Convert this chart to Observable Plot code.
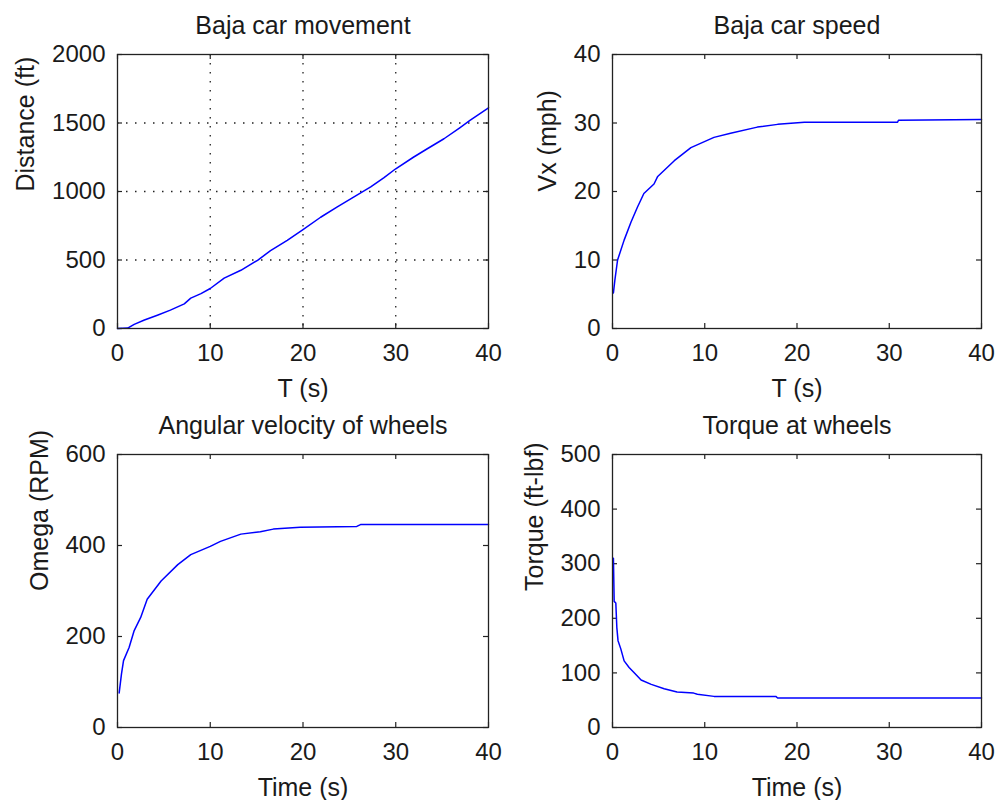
<!DOCTYPE html>
<html>
<head>
<meta charset="utf-8">
<script src="https://cdn.jsdelivr.net/npm/d3@7"></script>
<script src="https://cdn.jsdelivr.net/npm/@observablehq/plot@0.6"></script>
<style>
  html, body { margin: 0; padding: 0; background: #fff; }
  #wrap { position: relative; width: 997px; height: 800px; background: #fff; }
  #wrap > div { position: absolute; }
</style>
</head>
<body>
<div id="wrap">
  <div id="p1" style="left:0;top:0"></div>
  <div id="p2" style="left:498px;top:0"></div>
  <div id="p3" style="left:0;top:400px"></div>
  <div id="p4" style="left:498px;top:400px"></div>
</div>
<script>
// ---- Data ----
const xTicks = [0, 10, 20, 30, 40];

// Panel 1: Baja car movement
const tDist = [0, 1.1, 1.8, 2.9, 4.3, 5.7, 7.2, 7.9, 9.0, 10, 11.5, 13.3, 15.1, 16.5, 18.3, 20, 21.9, 23.7, 25.5, 27.3, 28.7, 30, 31.9, 33.4, 35.2, 36.9, 38, 40];
const distance = [0, 3, 30, 62, 97, 134, 180, 222, 255, 292, 368, 425, 498, 568, 644, 722, 812, 887, 960, 1033, 1100, 1166, 1250, 1312, 1385, 1465, 1519, 1611];
const distTicks = [0, 500, 1000, 1500, 2000];
const distGridX = [10, 20, 30];
const distGridY = [500, 1000, 1500];

// Panel 2: Baja car speed
const tSpeed = [0.1, 0.25, 0.55, 1.26, 2.0, 2.7, 3.4, 4.5, 4.9, 6.7, 8.5, 11, 12.8, 15.7, 17.9, 20.8, 30.9, 31, 40];
const speed = [5.2, 7, 10, 12.9, 15.5, 17.7, 19.7, 21.1, 22.2, 24.5, 26.4, 27.9, 28.5, 29.4, 29.8, 30.1, 30.1, 30.4, 30.5];
const speedTicks = [0, 10, 20, 30, 40];

// Panel 3: Angular velocity of wheels
const tOmega = [0.18, 0.43, 0.65, 1.25, 1.8, 2.5, 3.2, 4.7, 6.5, 7.9, 10, 11.1, 13.3, 15.4, 16.8, 19.7, 25.8, 26.2, 40];
const omega = [76, 118, 147, 176, 213, 242, 282, 322, 358, 380, 398, 409, 425, 430, 436, 440, 442, 446, 446];
const omegaTicks = [0, 200, 400, 600];

// Panel 4: Torque at wheels
const tTorque = [0.1, 0.18, 0.36, 0.47, 0.6, 0.9, 1.26, 1.8, 2.3, 3.1, 4.2, 5.6, 7, 8.8, 9.2, 11, 17.7, 17.9, 40];
const torque = [310, 231, 228, 183, 159, 144, 122, 110, 101, 87, 79, 71, 65, 63, 61, 57, 57, 54, 54];
const torqueTicks = [0, 100, 200, 300, 400, 500];

// ---- Drawing ----
const FONT = "'Liberation Sans', Arial, Helvetica, sans-serif";
const INK = "#1a1a1a";

function panel(cfg) {
  const {t, v, yTicks, title, xLabel, yLabel, yLabelDx, width, height,
         marginLeft, marginRight, marginTop, marginBottom, gridX, gridY} = cfg;
  const data = t.map((d, i) => ({t: d, v: v[i]}));
  const innerW = width - marginLeft - marginRight;
  const innerH = height - marginTop - marginBottom;
  const yMax = yTicks[yTicks.length - 1];
  const marks = [];
  if (gridX) {
    marks.push(Plot.ruleX(gridX, {x: d => d, stroke: "#222", strokeWidth: 1.3, strokeDasharray: "1.5,7.5"}));
    marks.push(Plot.ruleY(gridY, {y: d => d, stroke: "#222", strokeWidth: 1.3, strokeDasharray: "1.5,7.5"}));
  }
  marks.push(
    Plot.tickX(xTicks, {x: d => d, insetTop: innerH - 5, stroke: "#222", strokeWidth: 1.2}),
    Plot.tickX(xTicks, {x: d => d, insetBottom: innerH - 5, stroke: "#222", strokeWidth: 1.2}),
    Plot.tickY(yTicks, {y: d => d, insetRight: innerW - 5, stroke: "#222", strokeWidth: 1.2}),
    Plot.tickY(yTicks, {y: d => d, insetLeft: innerW - 5, stroke: "#222", strokeWidth: 1.2}),
    Plot.line(data, {x: "t", y: "v", stroke: "#0000ff", strokeWidth: 1.5}),
    Plot.frame({stroke: "#222", strokeWidth: 1.3}),
    Plot.axisX({ticks: xTicks, tickSize: 0, tickPadding: 15, tickFormat: d => String(d), label: null, fontSize: 24, fill: INK}),
    Plot.axisY({ticks: yTicks, tickSize: 0, tickPadding: 12, tickFormat: d => String(d), label: null, fontSize: 24, fill: INK}),
    Plot.text([title], {text: d => d, frameAnchor: "top", lineAnchor: "bottom", dy: -21, fontSize: 25, fill: INK}),
    Plot.text([xLabel], {text: d => d, frameAnchor: "bottom", lineAnchor: "bottom", dy: 68, fontSize: 25, fill: INK}),
    Plot.text([yLabel], {text: d => d, frameAnchor: "left", lineAnchor: "bottom", rotate: -90, dx: -yLabelDx, fontSize: 25, fill: INK})
  );
  return Plot.plot({
    width, height, marginLeft, marginRight, marginTop, marginBottom,
    x: {domain: [0, 40], axis: null},
    y: {domain: [0, yMax], axis: null},
    style: {fontFamily: FONT, background: "transparent", overflow: "visible", color: INK},
    marks
  });
}

document.getElementById("p1").appendChild(panel({
  t: tDist, v: distance, yTicks: distTicks, gridX: distGridX, gridY: distGridY,
  title: "Baja car movement", xLabel: "T (s)", yLabel: "Distance (ft)", yLabelDx: 84,
  width: 498, height: 400, marginLeft: 117, marginRight: 10, marginTop: 54, marginBottom: 72
}));
document.getElementById("p2").appendChild(panel({
  t: tSpeed, v: speed, yTicks: speedTicks,
  title: "Baja car speed", xLabel: "T (s)", yLabel: "Vx (mph)", yLabelDx: 57,
  width: 499, height: 400, marginLeft: 114, marginRight: 16, marginTop: 54, marginBottom: 72
}));
document.getElementById("p3").appendChild(panel({
  t: tOmega, v: omega, yTicks: omegaTicks,
  title: "Angular velocity of wheels", xLabel: "Time (s)", yLabel: "Omega (RPM)", yLabelDx: 70,
  width: 498, height: 400, marginLeft: 117, marginRight: 10, marginTop: 54, marginBottom: 73
}));
document.getElementById("p4").appendChild(panel({
  t: tTorque, v: torque, yTicks: torqueTicks,
  title: "Torque at wheels", xLabel: "Time (s)", yLabel: "Torque (ft-lbf)", yLabelDx: 70,
  width: 499, height: 400, marginLeft: 114, marginRight: 16, marginTop: 54, marginBottom: 73
}));
</script>
</body>
</html>
